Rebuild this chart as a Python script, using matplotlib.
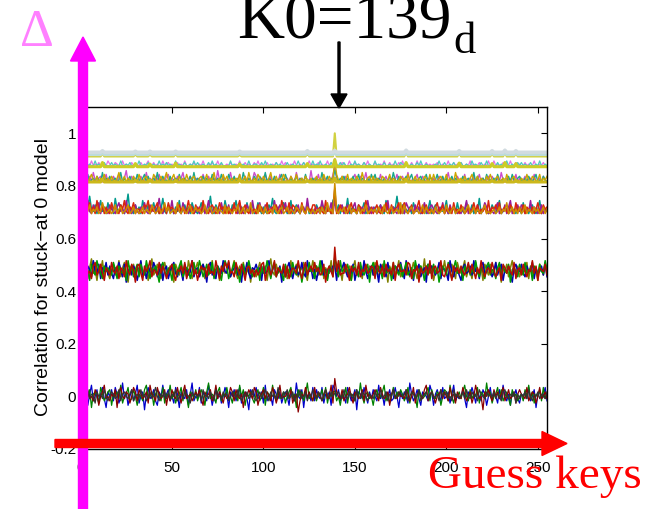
import numpy as np
import matplotlib
matplotlib.use("Agg")
import matplotlib.pyplot as plt
from matplotlib.patches import FancyArrow

# ---------------- data ----------------
K0 = 139                      # correct key guess
# noise values below are small integers; each band has its own step size
A_unit, B_unit, C_unit, D_unit, E_unit = 0.0085, 0.0068, 0.0082, 0.0072, 0.006

# band around 0 (levels are band centres / floors)
A_level = 0.0
A_blue = [2,-1,3,0,-4,1,5,-2,0,3,-3,1,4,-1,-5,2, 0,3,-2,4,1,-3,0,6,-1,2,-4,0,3,-2,1,5,
 -3,0,2,-6,1,4,-1,0,3,-2,-4,2,0,5,-1,1, 3,-2,0,-3,4,1,-5,2,0,-1,3,-4,1,6,-2,0,
 -1,4,-3,2,0,-2,5,1,-4,0,3,-1,2,-3,0,4, 1,-5,2,0,3,-2,1,4,-3,0,2,-1,-6,3,1,0,
 4,-1,0,2,-3,5,-2,1,0,-4,3,1,-1,2,-3,0, 2,0,-4,3,1,-2,6,0,-1,3,-5,2,0,1,-2,4,
 -2,3,0,-1,4,-3,1,0,2,-4,5,-1,0,3,-2,1, 0,-3,4,1,-2,0,3,-6,2,1,-1,4,0,-3,2,-1,
 3,0,-2,5,-1,1,-4,2,0,3,-2,-1,4,0,-5,2, -1,2,0,-3,6,1,-2,0,3,-1,-4,2,1,0,-2,5,
 2,-4,1,3,0,-2,4,-1,0,2,-3,1,5,-2,0,-1, 0,3,-1,-5,2,0,4,1,-3,2,0,-2,3,1,-4,0,
 4,-2,1,0,-3,3,-1,5,0,-2,1,-4,2,0,3,-1, -3,1,0,2,-1,4,-2,0,3,-5,1,2,-1,0,4,-2]
A_green = [-1,2,4,-2,0,3,-5,1,2,0,-3,4,1,-2,0,2, 3,-4,1,0,2,-1,5,-3,0,1,4,-2,-1,3,0,-4,
 1,0,-2,3,5,-1,0,2,-4,1,3,0,-2,4,-3,1, 0,5,-1,2,-3,0,1,4,-2,3,0,-5,2,1,-1,3,
 -2,1,3,0,-4,2,6,-1,1,0,-3,2,4,-2,1,0, 4,-1,0,-3,2,1,-2,5,0,3,-4,1,0,2,-1,-3,
 1,3,-2,0,4,-4,2,1,-1,5,0,-2,3,-1,0,2, -3,0,2,4,-1,1,-5,3,0,2,-2,1,6,-1,0,-2,
 2,-2,1,0,3,-1,4,-3,1,0,2,5,-2,0,-4,1, 0,4,-3,2,1,0,-2,3,-1,6,0,-3,1,2,-1,0,
 -4,1,3,-1,0,2,5,-2,1,-3,0,4,-1,2,0,3, 1,-2,0,4,-3,1,2,0,-5,3,1,-1,0,2,4,-2,
 3,0,-1,2,1,-4,0,3,2,-2,5,0,-3,1,0,2, -1,2,5,0,-2,3,-1,1,0,4,-3,2,1,-1,6,0,
 2,-3,0,1,4,-1,3,-2,0,2,-1,-4,3,0,1,-2, 0,1,-2,3,0,5,-1,2,-3,1,0,3,-2,4,-1,1]
A_darkred = [0,-3,1,4,2,-1,0,-2,3,1,-4,0,2,5,-1,0, -2,1,0,3,-5,2,4,0,-1,2,1,-3,0,4,2,-2,
 3,1,-1,0,2,-3,5,1,0,-2,4,1,-1,0,3,-4, 1,-2,3,0,-1,4,0,-3,2,5,-1,0,1,-2,0,2,
 0,3,-1,-4,2,0,1,3,-2,0,5,-1,2,0,-3,1, -1,0,4,2,-2,3,0,-1,1,-5,2,0,3,1,-1,4,
 2,-4,0,1,3,-1,2,0,-2,4,1,-3,0,5,-1,0, 0,2,-1,3,-3,0,1,-7,-2,1,0,4,-1,2,0,-2,
 4,-1,2,0,-2,1,3,-1,0,5,-3,1,2,0,-1,3, -2,0,1,4,0,-3,2,1,-1,0,3,-2,5,0,1,-1,
 1,3,0,-2,4,1,-1,0,2,-4,1,3,0,-1,2,0, 0,-1,3,1,-2,0,4,-3,1,2,0,-1,3,5,-2,1,
 2,0,-3,0,1,3,-1,2,0,-2,4,0,1,-3,2,0, -1,4,1,-2,0,2,-3,0,5,1,-1,0,-6,2,0,3,
 0,-2,3,0,2,-1,1,4,-2,0,3,-1,0,2,-3,1, 3,1,0,-1,4,-2,0,2,1,-3,0,4,-1,0,2,-1]
A_grey = [1,0,-2,2,3,-1,1,0,-3,2,0,1,-1,3,0,-2, 0,2,1,-1,0,3,-2,1,2,0,-1,1,3,-2,0,1,
 -1,3,0,1,-2,0,2,-1,1,4,0,-2,1,0,2,-1, 2,-1,1,0,3,-2,0,1,-1,2,1,0,-3,2,0,1,
 0,1,-2,3,0,1,-1,2,0,-2,3,1,0,-1,2,0, 1,-2,0,2,1,-1,3,0,-2,1,0,2,-1,0,3,-1,
 -2,0,2,-1,1,3,0,-2,2,0,1,-1,4,0,-1,2, 1,3,-1,0,2,-2,1,0,3,-1,0,2,-2,1,0,3,
 0,-1,2,1,-2,0,3,1,-1,2,0,-3,1,2,0,-1, 3,0,-1,2,0,1,-2,3,0,-1,2,1,0,-2,1,0,
 -1,2,0,1,3,-1,0,2,-2,1,0,3,-1,0,2,1, 0,1,3,-2,0,2,1,-1,0,3,-2,0,1,2,-1,0,
 2,-1,0,1,-2,3,0,1,2,-1,0,-2,3,0,1,-1, 0,2,-1,3,0,-1,2,0,1,-2,3,1,0,-1,2,0,
 1,0,2,-1,1,0,-2,2,3,0,-1,1,0,2,-3,1, -1,1,0,2,-1,3,0,-2,1,0,2,-1,1,0,-1,2]
A_peak = [0.030, 0.020, 0.068, 0.012]

# band around 0.475
B_level = 0.475
B_olive = [3,-2,5,0,-4,2,7,-1,1,-5,3,0,6,-3,2,-1, -4,1,4,-2,0,6,-3,2,5,-1,-6,3,0,4,-2,1,
 2,5,-3,0,3,-5,1,7,-2,0,4,-1,-4,2,5,0, -1,3,0,-6,4,1,-2,5,0,3,-3,6,1,-4,0,2,
 5,-2,1,4,-4,0,3,-1,6,-3,1,2,-5,0,4,-1, 0,4,-3,2,6,-1,-4,3,0,5,-2,1,4,-6,2,0,
 -3,1,5,-1,0,3,-5,2,7,0,-2,4,-1,1,-4,3, 2,-4,0,6,-2,1,4,-3,0,2,5,-1,-5,3,0,6,
 1,3,-2,0,5,-4,2,0,-1,6,-3,2,4,-2,1,-5, 4,0,-1,3,-5,2,6,-2,0,1,-4,5,0,-1,3,2,
 -2,5,1,-3,0,4,-1,2,-6,3,0,5,-2,1,6,-3, 0,-1,4,2,-3,1,5,0,-4,2,3,-1,7,-2,0,1,
 3,-5,0,1,4,-2,0,6,-1,-3,2,4,0,-4,5,1, -1,2,6,-3,1,0,-4,3,5,-1,0,2,-5,4,1,-2,
 4,0,-2,5,-1,3,-6,1,0,4,-3,2,6,0,-2,3, -3,1,2,0,5,-4,3,-1,2,0,-5,4,1,-2,3,0]
B_blue = [-2,4,0,-5,3,1,-3,6,0,-1,4,-4,2,0,5,-2, 3,-1,-4,2,0,5,1,-3,4,-6,0,2,-2,3,1,-5,
 0,6,-2,1,-4,3,0,-1,5,2,-3,0,4,-5,1,3, -4,0,3,5,-1,-3,2,0,-5,4,1,-2,0,6,-3,1,
 2,-3,0,4,1,-6,3,5,-2,0,-4,3,1,-1,6,0, -1,5,-3,0,2,4,-2,1,-6,3,0,5,-1,-4,2,1,
 4,0,2,-5,3,-1,0,6,-3,1,4,-2,0,3,-6,2, -3,2,5,0,-4,1,3,-2,0,5,-1,-3,6,0,2,-4,
 1,-5,0,3,6,-2,1,-4,2,0,3,-1,-5,4,0,2, 5,0,-3,1,-1,4,-5,0,3,2,-2,6,0,-4,1,3,
 -2,3,0,-6,4,1,2,-3,5,-1,0,-4,3,2,-1,5, 0,-4,6,2,-2,0,-5,3,1,4,-3,0,2,-6,4,0,
 3,1,-2,0,5,-4,2,1,-1,-5,6,0,-3,2,1,-2, -5,2,4,-1,0,3,-2,6,0,1,-4,3,5,-2,0,4,
 1,-3,0,5,-2,2,4,-5,1,0,3,-1,-6,2,4,0, 0,4,-1,-3,3,0,1,5,-4,2,-1,0,3,-2,5,-3]
B_green = [5,0,-3,2,1,-5,4,0,-2,6,1,-1,-4,3,0,2, 0,-2,5,1,-4,3,0,-1,2,-5,6,0,3,-3,1,4,
 -3,4,0,-2,6,1,-4,2,0,3,-1,-6,2,5,0,-2, 2,0,-5,4,1,-2,3,6,-3,0,2,1,-4,0,5,-1,
 -1,6,2,-3,0,4,-2,0,5,-4,1,3,0,-5,2,6, 3,-4,0,1,5,-1,2,-6,0,4,-2,0,6,1,-3,0,
 0,2,-5,3,-1,0,6,1,-4,2,5,-3,0,2,-1,-5, 4,-1,1,-3,5,0,-2,4,1,-6,0,3,-2,5,0,1,
 -4,3,0,6,-2,2,0,-5,3,1,-1,4,2,-3,6,0, 1,0,4,-1,-5,3,2,0,-3,5,0,-2,1,4,-6,2,
 5,-2,0,3,1,-4,6,-1,0,2,-5,1,3,0,-2,4, -3,1,5,-2,0,2,-4,6,1,-1,3,0,-5,2,4,-1,
 0,4,-1,2,-6,0,3,1,-2,5,0,-4,2,6,-1,0, 2,-5,3,0,4,-2,1,-1,6,0,-3,2,0,-4,3,5,
 -2,1,0,-4,2,5,-3,3,0,-1,4,-6,1,2,0,-3, 4,0,-2,5,-1,0,2,-5,3,1,-2,4,0,-1,6,1]
B_red = [1,-3,2,6,-1,0,-4,3,5,-2,0,4,-1,-5,2,0, -2,5,0,-1,3,-4,2,1,-3,6,0,-2,4,1,-6,3,
 4,-1,-5,3,0,2,6,-3,1,0,-2,5,-1,3,0,-4, 0,2,4,-2,-5,1,0,3,-1,5,-4,0,2,6,-2,1,
 -5,0,3,1,2,-3,4,-1,0,-2,6,1,-4,3,0,5, 2,6,-1,0,-3,5,1,-2,4,0,-5,2,3,-1,1,-3,
 1,-2,0,4,5,-5,0,3,-2,1,6,-3,2,0,-1,4, -3,3,-4,0,2,1,-1,6,0,-4,2,5,-2,1,3,0,
 5,0,2,-2,-1,4,-6,1,3,0,-3,2,0,6,-2,-1, -1,4,0,-5,3,0,2,-2,5,-3,1,0,4,-1,0,3,
 2,-4,6,0,-1,3,-3,4,0,1,-2,5,-5,2,4,0, 0,1,-2,5,4,-4,1,0,3,-6,2,-1,0,3,-2,6,
 -4,2,3,-1,0,6,-2,-3,1,4,0,-5,3,0,2,-1, 3,0,-2,1,5,-1,4,0,-4,2,-1,6,0,-3,1,2,
 -1,5,1,-3,0,2,-5,4,2,-1,3,0,-2,5,-4,1, 2,-2,4,0,-3,1,0,6,-1,3,-5,2,1,0,4,-2]
B_peak = [0.520, 0.500, 0.530, 0.567]

# band with floor at 0.695
C_level = 0.695
C_teal = [2,5,1,0,3,8,2,1,4,0,2,6,1,3,0,5, 1,3,0,7,2,1,4,2,0,3,9,1,2,0,4,1,
 3,0,6,2,1,4,0,2,5,1,3,0,2,7,1,0, 4,1,2,0,3,1,6,0,2,4,1,3,0,5,2,1,
 0,2,5,1,3,0,2,8,1,0,4,2,1,3,0,6, 2,1,0,4,2,6,1,0,3,2,0,5,1,2,4,0,
 1,5,2,0,3,1,0,4,2,7,1,0,3,1,2,5, 3,0,1,6,0,2,4,1,0,3,2,1,5,0,2,1,
 0,4,2,1,5,0,3,1,2,0,6,2,1,4,0,3, 2,1,7,0,2,3,1,0,4,1,2,5,0,1,3,2,
 1,3,0,2,4,1,0,6,2,1,0,3,2,8,1,0, 4,0,2,1,3,0,5,2,1,3,0,1,4,0,2,6,
 0,2,4,1,0,3,1,2,6,0,2,1,3,0,5,1, 3,1,0,5,2,1,4,0,2,1,7,0,2,3,1,0,
 1,4,2,0,3,6,0,1,3,2,0,4,1,2,0,3, 2,0,5,1,2,0,3,4,1,0,2,6,0,3,1,2]
C_purple = [1,0,3,2,6,1,0,4,2,1,5,0,3,1,2,0, 4,2,1,0,3,5,1,2,0,6,1,3,0,2,4,1,
 0,3,2,5,1,0,4,1,3,0,2,7,1,0,3,2, 2,1,6,0,2,3,1,0,5,2,1,0,4,3,0,1,
 3,0,1,4,0,2,6,1,0,3,2,1,0,5,1,3, 1,4,0,2,3,1,0,5,2,0,1,4,2,0,6,1,
 0,2,5,1,0,4,2,1,3,0,6,1,2,4,0,2, 5,1,0,3,2,0,1,4,0,2,3,0,7,1,2,0,
 2,3,1,0,6,2,0,3,1,5,0,2,1,0,3,4, 0,1,4,2,0,3,5,0,2,1,3,0,2,6,1,0,
 3,2,0,1,4,0,2,1,6,0,2,3,1,0,4,2, 1,0,5,3,1,2,0,4,1,3,0,2,5,1,0,3,
 4,2,1,0,3,1,5,0,2,0,4,1,3,2,0,1, 0,3,2,6,0,2,1,3,0,4,1,0,2,5,3,0,
 2,1,0,3,5,0,2,1,4,0,3,6,0,1,2,4, 1,4,3,0,2,1,6,0,3,2,0,1,4,0,2,1]
C_red = [3,1,4,0,2,5,1,3,0,6,2,1,4,0,3,1, 0,5,2,3,1,0,4,2,6,1,0,3,2,5,0,2,
 2,1,0,4,3,6,0,2,1,3,5,0,2,1,4,0, 5,2,3,1,0,2,4,1,3,0,2,6,1,3,0,4,
 1,3,0,6,2,1,0,3,4,2,0,1,5,2,3,0, 3,0,2,1,5,0,3,6,0,2,4,1,0,3,1,2,
 0,4,1,3,0,2,5,0,1,3,2,4,1,0,6,3, 2,1,5,0,4,3,1,2,0,5,1,0,3,2,1,4,
 4,0,2,3,1,0,6,1,2,0,3,5,0,2,4,1, 1,3,0,2,5,1,2,0,4,3,0,2,6,1,0,3,
 0,2,4,1,0,3,1,5,2,0,4,1,2,3,5,0, 3,5,1,0,2,4,0,1,3,6,1,0,2,4,1,2,
 1,0,3,5,1,2,4,0,2,1,3,0,5,1,2,0, 4,2,0,1,3,0,2,5,1,4,0,2,1,3,0,6,
 0,3,2,4,1,5,0,2,3,1,0,4,2,0,5,1, 2,1,4,0,3,2,1,3,0,2,5,1,0,4,2,3]
C_gold = [1,2,0,3,1,4,0,2,1,3,0,1,5,2,0,1, 2,0,1,4,0,2,3,0,1,2,4,0,1,3,0,2,
 0,1,3,0,2,1,0,4,2,0,1,3,0,2,5,1, 3,0,1,2,0,5,1,0,3,1,0,2,4,0,1,3,
 1,2,0,1,4,0,2,3,0,1,3,0,2,1,0,4, 0,3,1,0,2,1,4,0,1,3,0,2,1,5,0,1,
 2,0,4,1,0,3,0,1,2,0,4,1,0,2,3,0, 1,3,0,2,1,0,3,2,0,4,1,0,3,1,0,2,
 0,1,2,0,3,1,0,5,1,2,0,3,1,0,2,1, 3,0,1,4,0,2,1,0,3,0,2,1,4,0,1,2,
 1,2,0,3,1,0,4,1,0,2,3,0,1,2,0,5, 0,4,1,0,2,3,0,1,2,0,1,4,0,3,1,0,
 2,0,3,1,0,1,2,0,4,1,0,2,3,0,1,2, 1,3,0,2,4,0,1,3,0,2,1,0,2,4,0,1,
 0,1,2,0,1,3,0,2,1,5,0,1,3,0,2,0, 3,0,1,4,0,2,1,0,3,1,2,0,1,3,0,2]
C_peak = [0.760, 0.745, 0.790, 0.810]

# band with floor at 0.815
D_level = 0.815
D_magenta = [1,4,0,2,1,3,0,5,1,0,2,3,0,1,4,0, 2,0,3,1,0,4,1,0,2,6,0,1,3,0,2,1,
 0,3,1,0,5,0,2,1,0,3,1,4,0,2,0,3, 4,0,2,1,0,3,0,2,5,0,1,0,3,1,0,2,
 1,2,0,4,1,0,3,0,1,2,0,6,1,0,3,0, 0,1,5,0,2,1,0,4,0,1,3,0,2,0,1,5,
 3,0,1,2,0,4,1,0,3,0,2,1,0,4,0,1, 0,2,0,3,1,0,5,1,0,2,0,3,1,0,6,0,
 2,0,4,0,1,3,0,2,1,0,4,0,2,1,0,3, 1,3,0,1,0,2,4,0,1,3,0,1,5,0,2,0,
 0,1,2,0,4,0,1,3,0,1,2,0,1,4,0,2, 3,0,1,5,0,1,0,2,4,0,1,3,0,1,2,0,
 0,2,0,1,3,0,2,0,1,5,0,2,1,0,3,1, 1,0,4,0,1,2,0,3,0,1,4,0,2,0,1,3,
 0,3,1,0,2,0,5,1,0,2,0,1,3,0,4,0, 2,0,1,3,0,1,2,0,4,0,1,2,0,3,1,0]
D_teal = [0,2,1,0,4,0,1,2,0,3,1,0,5,0,2,1, 3,0,1,2,0,1,5,0,2,0,1,3,0,2,0,4,
 1,0,2,4,0,3,0,1,2,0,5,0,1,3,0,1, 0,3,0,1,2,0,4,1,0,2,0,1,3,0,5,0,
 2,1,0,3,0,2,1,0,4,1,0,2,0,4,1,0, 0,4,1,0,3,0,2,1,0,5,1,0,2,1,0,3,
 1,0,3,1,0,5,0,2,1,0,3,0,1,2,4,0, 4,1,0,2,0,1,3,0,2,1,0,4,0,1,0,2,
 0,2,1,0,5,0,1,3,0,2,1,0,3,0,2,1, 3,0,2,1,0,3,0,1,4,0,2,1,0,2,0,4,
 1,4,0,2,1,0,2,0,1,3,0,5,1,0,3,0, 0,1,3,0,2,4,0,1,0,2,3,0,1,4,0,2,
 2,0,1,4,0,1,3,0,2,0,1,3,0,2,1,0, 0,3,0,1,2,0,1,5,0,3,0,1,2,0,4,1,
 1,0,2,0,4,1,0,2,1,0,3,0,4,1,0,2, 3,1,0,2,0,3,1,0,2,4,0,1,0,3,1,0]
D_gold = [2,0,3,1,0,2,4,1,0,3,0,2,1,4,0,2, 0,3,1,0,2,5,0,1,3,0,2,1,0,3,1,0,
 4,1,0,2,3,0,1,0,4,2,0,1,3,0,2,5, 1,0,2,4,0,1,3,0,2,0,4,1,0,2,3,0,
 0,2,3,0,1,4,0,2,1,5,0,1,2,0,4,1, 3,0,1,2,0,2,1,4,0,1,3,0,5,1,0,2,
 0,4,2,0,3,1,0,2,5,0,1,3,0,2,1,4, 2,1,0,3,1,0,4,0,1,2,0,3,1,0,2,0,
 1,3,0,2,0,4,1,0,3,1,2,0,4,1,0,3, 0,1,4,0,2,1,0,3,1,0,5,1,0,2,3,0,
 3,0,2,1,0,3,2,0,1,4,0,2,1,0,1,3, 1,2,0,4,1,0,1,3,0,2,1,0,3,2,0,4,
 0,4,1,0,2,3,0,1,4,0,2,1,0,5,1,0, 2,0,3,1,0,2,4,0,1,3,0,2,1,0,3,1,
 4,1,0,2,3,0,1,2,0,4,1,0,2,3,0,1, 0,2,1,0,4,1,0,3,2,0,1,4,0,2,1,3]
D_peak = [0.870, 0.860, 0.900]

# thin noisy band with floor at 0.877
E_level = 0.877
E_pink = [0,1,0,2,0,0,3,0,1,0,2,0,0,1,0,3, 1,0,0,2,1,0,0,3,0,1,0,0,2,0,1,0,
 0,2,0,0,1,3,0,0,2,0,1,0,0,3,0,1, 2,0,1,0,0,2,0,1,0,3,0,0,1,0,2,0,
 0,1,0,3,0,0,1,0,2,0,0,3,0,1,0,0, 1,0,2,0,0,1,0,3,0,0,2,0,1,0,0,2,
 0,3,0,1,0,0,2,0,0,1,0,2,0,0,3,0, 2,0,0,1,0,3,0,0,1,0,2,0,0,3,0,1,
 0,0,2,0,1,0,0,3,0,2,0,0,1,0,0,2, 1,0,0,3,0,0,2,0,1,0,0,2,0,3,0,0,
 0,2,0,0,1,0,3,0,0,2,0,1,0,0,2,0, 3,0,1,0,0,2,0,0,3,0,1,0,0,2,0,1,
 0,1,0,2,0,0,1,0,0,3,0,0,2,0,1,0, 2,0,0,1,0,3,0,1,0,0,2,0,0,1,0,3,
 0,0,3,0,1,0,0,2,0,1,0,3,0,0,2,0, 1,0,0,2,0,1,0,0,3,0,0,1,0,2,0,0]
E_teal = [1,0,2,0,0,1,0,0,3,0,1,0,0,2,0,0, 0,2,0,1,0,0,3,0,0,1,0,2,0,0,1,0,
 3,0,0,1,0,2,0,0,1,0,0,3,0,1,0,2, 0,1,0,0,3,0,1,0,0,2,0,0,1,0,3,0,
 2,0,0,1,0,0,2,0,3,0,1,0,0,2,0,0, 0,0,3,0,1,0,0,2,0,1,0,0,3,0,0,1,
 1,0,0,2,0,3,0,0,1,0,0,2,0,1,0,0, 0,2,0,0,1,0,0,3,0,0,2,0,1,0,0,3,
 0,1,0,3,0,0,1,0,0,2,0,1,0,0,2,0, 2,0,0,0,1,0,3,0,1,0,0,2,0,0,1,0,
 0,3,0,1,0,0,2,0,0,1,0,0,3,0,0,2, 1,0,2,0,0,1,0,0,2,0,3,0,0,1,0,0,
 0,0,1,0,3,0,0,2,0,0,1,0,2,0,0,1, 2,0,0,1,0,0,3,0,1,0,0,2,0,0,3,0,
 0,1,0,0,2,0,1,0,0,3,0,0,1,0,0,2, 0,2,0,1,0,0,2,0,0,1,0,3,0,0,1,0]
E_peak = [0.905, 0.900]

# nearly flat lines with a few shared spikes
spike_keys = [12, 30, 38, 52, 87, 124, 178, 207, 225, 232, 238]
flat_levels = [0.815, 0.873, 0.912, 0.920, 0.928]
flat_spikes = [
    [0.010, 0.006, 0.008, 0.006, 0.008, 0.006, 0.010, 0.008, 0.006, 0.008, 0.006],
    [0.016, 0.012, 0.010, 0.014, 0.010, 0.012, 0.016, 0.014, 0.012, 0.016, 0.012],
    [0.012, 0.008, 0.008, 0.010, 0.006, 0.010, 0.016, 0.014, 0.012, 0.016, 0.012],
    [0.008, 0.006, 0.006, 0.006, 0.006, 0.008, 0.010, 0.008, 0.008, 0.010, 0.008],
    [0.006, 0.004, 0.004, 0.004, 0.004, 0.006, 0.008, 0.006, 0.006, 0.008, 0.006],
]
flat_peak = [0.83, 0.90, 1.00, 0.93, 0.935]

x_ticks = [0, 50, 100, 150, 200, 250]
y_ticks = [-0.2, 0, 0.2, 0.4, 0.6, 0.8, 1.0]
y_tick_labels = ['-0.2', '0', '0.2', '0.4', '0.6', '0.8', '1']

# ---------------- figure ----------------
W, H = 648, 509
fig = plt.figure(figsize=(W / 100, H / 100), dpi=100)
ax = fig.add_axes([80.5 / W, 1 - 449 / H, (547 - 80.5) / W, (449 - 107) / H])

def noisy(level, unit, vals, peak):
    y = level + unit * np.asarray(vals, dtype=float)
    y[K0] = peak
    return np.arange(len(y)), y

groups = [
    (A_level, A_unit, [A_blue, A_green, A_darkred, A_grey], A_peak,
     [(0, 0, 0.8), (0, 0.5, 0), (0.55, 0, 0), (0.2, 0.2, 0.2)], 0.9),
    (B_level, B_unit, [B_olive, B_blue, B_green, B_red], B_peak,
     [(0.5, 0.5, 0), (0, 0, 0.7), (0, 0.6, 0), (0.7, 0.05, 0)], 1.1),
    (C_level, C_unit, [C_teal, C_purple, C_red, C_gold], C_peak,
     [(0, 0.6, 0.55), (0.6, 0.1, 0.6), (0.85, 0.15, 0.05), (0.8, 0.55, 0)], 1.1),
    (D_level, D_unit, [D_magenta, D_teal, D_gold], D_peak,
     [(0.8, 0.3, 0.8), (0.1, 0.65, 0.55), (0.8, 0.65, 0)], 1.0),
    (E_level, E_unit, [E_pink, E_teal], E_peak,
     [(0.9, 0.45, 0.9), (0.3, 0.8, 0.75)], 0.9),
]
for level, unit, series, peaks, colors, lw in groups:
    for vals, pk, c in zip(series, peaks, colors):
        xx, yy = noisy(level, unit, vals, pk)
        ax.plot(xx, yy, color=c, lw=lw)

flat_colors = [(0.8, 0.72, 0.1), (0.8, 0.8, 0.15), (0.82, 0.82, 0.25),
               (0.74, 0.86, 0.86), (0.82, 0.86, 0.88)]
flat_lw = [2.2, 2.2, 1.5, 2.5, 2.5]
for lev, sp, pk, c, lw in zip(flat_levels, flat_spikes, flat_peak, flat_colors, flat_lw):
    yy = np.full(256, lev)
    for k, h in zip(spike_keys, sp):
        yy[k] = lev + h
    yy[K0] = pk
    ax.plot(np.arange(256), yy, color=c, lw=lw)

ax.set_xlim(0, 255)
ax.set_ylim(-0.2, 1.1)
ax.set_xticks(x_ticks)
ax.set_xticklabels([str(t) for t in x_ticks])
ax.set_yticks(y_ticks)
ax.set_yticklabels(y_tick_labels)
tick_font = ['Liberation Sans Narrow', 'Liberation Sans', 'DejaVu Sans']
for lab in ax.get_xticklabels() + ax.get_yticklabels():
    lab.set_family(tick_font)
    lab.set_fontsize(11)
ax.tick_params(direction='in', length=4, width=0.8, top=True, right=True)
ax.tick_params(axis='x', pad=9)
ax.tick_params(axis='y', pad=3)
for s in ax.spines.values():
    s.set_linewidth(1.0)

def fx(px):
    return px / W

def fy(py):
    return 1 - py / H

fig.text(fx(44), fy(277), 'Correlation for stuck\u2212at 0 model', rotation=90,
         ha='center', va='center', fontsize=14, family=['Liberation Sans', 'DejaVu Sans'])

serif = ['Liberation Serif', 'DejaVu Serif']
fig.text(fx(237), fy(38), 'K0=139', ha='left', va='baseline', fontsize=47, family=serif)
fig.text(fx(453), fy(53), 'd', ha='left', va='baseline', fontsize=32, family=serif)
fig.text(fx(20), fy(46), '\u0394', ha='left', va='baseline', fontsize=38,
         family=serif, color=(1, 0.5, 1))
fig.text(fx(428), fy(488), 'Guess keys', ha='left', va='baseline', fontsize=34,
         family=serif, color='red')

inch = fig.dpi_scale_trans
def ipx(px):
    return px / 100.0

# magenta vertical arrow
fig.add_artist(FancyArrow(ipx(83), 0, 0, ipx(509 - 37), width=ipx(9), head_width=ipx(25),
                          head_length=ipx(24), length_includes_head=True,
                          color='#ff00ff', transform=inch, zorder=10))
# red horizontal arrow
fig.add_artist(FancyArrow(ipx(55), ipx(509 - 443.5), ipx(567 - 55), 0, width=ipx(8),
                          head_width=ipx(24), head_length=ipx(25), length_includes_head=True,
                          color='red', transform=inch, zorder=10))
# black arrow pointing at the correct key
fig.add_artist(FancyArrow(ipx(339), ipx(509 - 42), 0, -ipx(108 - 42), width=ipx(2),
                          head_width=ipx(16), head_length=ipx(14), length_includes_head=True,
                          color='black', transform=inch, zorder=10))

fig.savefig('out.png', dpi=100)
